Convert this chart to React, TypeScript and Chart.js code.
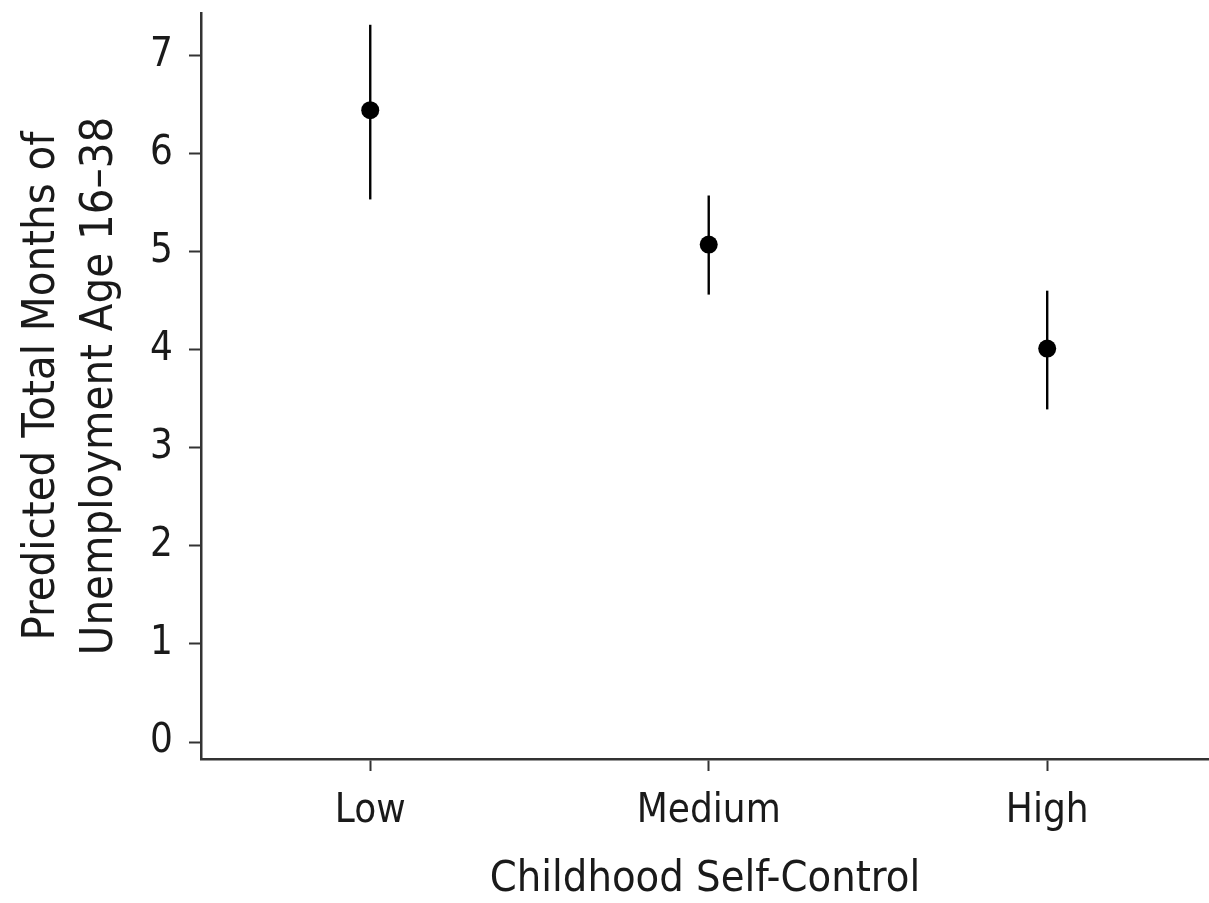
import React, { useEffect, useRef } from 'react';
import { Chart, registerables } from 'chart.js';
Chart.register(...registerables);

const categories = ['Low', 'Medium', 'High'];
const predicted = [6.44, 5.07, 4.01];
const ciLower = [5.53, 4.56, 3.39];
const ciUpper = [7.31, 5.57, 4.6];
const yTickValues = [0, 1, 2, 3, 4, 5, 6, 7];
const yTitle = ['Predicted Total Months of', 'Unemployment Age 16\u201338'];
const xTitle = 'Childhood Self-Control';

const FONT = '"Liberation Sans Narrow", "DejaVu Sans Condensed", "Liberation Sans", sans-serif';
const AXIS = '#333333';
const TEXT = '#1a1a1a';

export default function App() {
  const ref = useRef<HTMLCanvasElement | null>(null);

  useEffect(() => {
    if (!ref.current) return;
    const errorSets = categories.map((c, i) => ({
      type: 'line' as const,
      label: c + ' CI',
      data: [
        { x: i, y: ciLower[i] },
        { x: i, y: ciUpper[i] },
      ],
      borderColor: '#000000',
      borderWidth: 2.4,
      pointRadius: 0,
      showLine: true,
      fill: false,
    }));
    const chart = new Chart(ref.current, {
      type: 'scatter',
      data: {
        datasets: [
          ...errorSets,
          {
            type: 'scatter' as const,
            label: 'Predicted',
            data: predicted.map((y, i) => ({ x: i, y })),
            backgroundColor: '#000000',
            borderColor: '#000000',
            borderWidth: 0,
            pointRadius: 9,
          },
        ] as any,
      },
      options: {
        animation: false,
        responsive: false,
        maintainAspectRatio: false,
        layout: { autoPadding: false, padding: { top: 13, right: 0, left: 0, bottom: 0 } },
        plugins: { legend: { display: false }, tooltip: { enabled: false } },
        scales: {
          x: {
            type: 'linear',
            min: -0.5,
            max: 2.478,
            afterBuildTicks: (s: any) => {
              s.ticks = categories.map((_, i) => ({ value: i }));
            },
            afterFit: (s: any) => {
              s.paddingLeft = 0;
              s.paddingRight = 0;
              s.height = 144;
            },
            ticks: {
              callback: (v: any) => categories[Number(v)] ?? '',
              color: TEXT,
              padding: 17,
              font: { family: FONT, size: 40, lineHeight: 1.2 },
              maxRotation: 0,
              autoSkip: false,
            },
            grid: {
              display: true,
              drawOnChartArea: false,
              drawTicks: true,
              tickLength: 12,
              tickWidth: 2,
              tickColor: AXIS,
            },
            border: { display: true, color: AXIS, width: 2.5 },
            title: {
              display: true,
              text: xTitle,
              color: TEXT,
              font: { family: FONT, size: 43, lineHeight: 1.1 },
              padding: { top: 0, bottom: 0 },
            },
          },
          y: {
            type: 'linear',
            min: -0.173,
            max: 7.43,
            afterBuildTicks: (s: any) => {
              s.ticks = yTickValues.map((v) => ({ value: v }));
            },
            afterFit: (s: any) => {
              s.paddingTop = 0;
              s.paddingBottom = 0;
              s.width = 201;
            },
            ticks: {
              callback: (v: any) => String(v),
              color: TEXT,
              padding: 16,
              font: { family: FONT, size: 40, lineHeight: 1.2 },
              autoSkip: false,
            },
            grid: {
              display: true,
              drawOnChartArea: false,
              drawTicks: true,
              tickLength: 12,
              tickWidth: 2,
              tickColor: AXIS,
            },
            border: { display: true, color: AXIS, width: 2.5 },
            title: {
              display: true,
              text: yTitle,
              color: TEXT,
              font: { family: FONT, size: 45, lineHeight: 1.29 },
              padding: { top: 13, bottom: 23 },
            },
          },
        },
      },
    });
    return () => chart.destroy();
  }, []);

  return (
    <div style={{ position: 'fixed', left: 0, top: 0, width: 1209, height: 903, background: '#fff' }}>
      <canvas ref={ref} width={1209} height={903} style={{ display: 'block', width: 1209, height: 903 }} />
    </div>
  );
}
